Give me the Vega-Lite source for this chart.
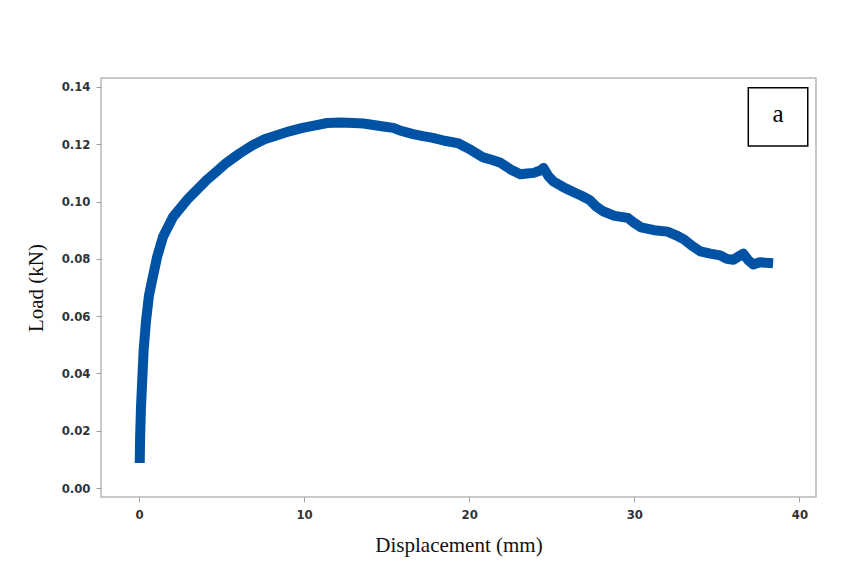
{
  "$schema": "https://vega.github.io/schema/vega-lite/v6.json",
  "width": 715,
  "height": 419,
  "autosize": {"type": "none"},
  "padding": {"left": 101, "top": 78, "right": 31, "bottom": 71},
  "background": "white",
  "config": {
    "view": {"stroke": "#b8b8b8", "strokeWidth": 1.5},
    "axis": {
      "grid": false,
      "domain": false,
      "tickColor": "#a0a0a0",
      "tickSize": 5,
      "labelFont": "DejaVu Sans Condensed",
      "labelFontSize": 13,
      "labelFontWeight": "bold",
      "labelColor": "#333333",
      "titleFont": "Liberation Serif",
      "titleFontSize": 21,
      "titleFontWeight": "normal",
      "titleColor": "#111111"
    }
  },
  "layer": [
    {
      "data": {
        "values": [
          {"d": 0.05, "L": 0.0105}, {"d": 0.07, "L": 0.018}, {"d": 0.12, "L": 0.028},
          {"d": 0.2, "L": 0.038}, {"d": 0.28, "L": 0.048}, {"d": 0.42, "L": 0.058},
          {"d": 0.6, "L": 0.067}, {"d": 0.8, "L": 0.0726}, {"d": 1.1, "L": 0.0807},
          {"d": 1.45, "L": 0.0876}, {"d": 2.06, "L": 0.0946}, {"d": 2.9, "L": 0.1005},
          {"d": 3.5, "L": 0.104}, {"d": 4.1, "L": 0.1075}, {"d": 4.7, "L": 0.1105},
          {"d": 5.3, "L": 0.1135}, {"d": 6.1, "L": 0.1168}, {"d": 6.9, "L": 0.1197},
          {"d": 7.6, "L": 0.1217}, {"d": 8.4, "L": 0.1232}, {"d": 9.1, "L": 0.1245},
          {"d": 9.9, "L": 0.1257}, {"d": 10.6, "L": 0.1265}, {"d": 11.4, "L": 0.1274},
          {"d": 12.2, "L": 0.1276}, {"d": 13.0, "L": 0.1274}, {"d": 13.6, "L": 0.1272},
          {"d": 14.2, "L": 0.1267}, {"d": 14.8, "L": 0.1262}, {"d": 15.4, "L": 0.1257},
          {"d": 15.8, "L": 0.1248}, {"d": 16.6, "L": 0.1235}, {"d": 17.2, "L": 0.1228},
          {"d": 17.8, "L": 0.1222}, {"d": 18.5, "L": 0.1212}, {"d": 19.3, "L": 0.1204},
          {"d": 20.1, "L": 0.118}, {"d": 20.8, "L": 0.1155}, {"d": 21.4, "L": 0.1145},
          {"d": 21.9, "L": 0.1135}, {"d": 22.5, "L": 0.1112}, {"d": 23.1, "L": 0.1095},
          {"d": 23.5, "L": 0.1098}, {"d": 23.9, "L": 0.11}, {"d": 24.3, "L": 0.1108},
          {"d": 24.5, "L": 0.1117}, {"d": 24.8, "L": 0.1088}, {"d": 25.1, "L": 0.107},
          {"d": 25.7, "L": 0.105}, {"d": 26.3, "L": 0.1033}, {"d": 26.8, "L": 0.102},
          {"d": 27.3, "L": 0.1005}, {"d": 27.7, "L": 0.0982}, {"d": 28.1, "L": 0.0966},
          {"d": 28.8, "L": 0.095}, {"d": 29.6, "L": 0.0943}, {"d": 30.0, "L": 0.0925},
          {"d": 30.4, "L": 0.091}, {"d": 31.2, "L": 0.09}, {"d": 32.0, "L": 0.0895},
          {"d": 32.5, "L": 0.0883}, {"d": 33.0, "L": 0.0868}, {"d": 33.5, "L": 0.0845},
          {"d": 34.0, "L": 0.0826}, {"d": 34.6, "L": 0.0818}, {"d": 35.2, "L": 0.0812},
          {"d": 35.6, "L": 0.08}, {"d": 36.0, "L": 0.0797}, {"d": 36.3, "L": 0.0808},
          {"d": 36.6, "L": 0.0818}, {"d": 36.9, "L": 0.0795}, {"d": 37.2, "L": 0.078},
          {"d": 37.6, "L": 0.0788}, {"d": 38.1, "L": 0.0786}
        ]
      },
      "mark": {"type": "line", "color": "#0053a4", "strokeWidth": 10, "strokeCap": "square", "strokeJoin": "round", "clip": true},
      "encoding": {
        "x": {
          "field": "d", "type": "quantitative",
          "scale": {"domain": [-2.3, 41], "nice": false, "zero": false},
          "axis": {"values": [0, 10, 20, 30, 40], "title": "Displacement (mm)", "labelPadding": 6, "titlePadding": 13}
        },
        "y": {
          "field": "L", "type": "quantitative",
          "scale": {"domain": [-0.0031, 0.1431], "nice": false, "zero": false},
          "axis": {"values": [0, 0.02, 0.04, 0.06, 0.08, 0.1, 0.12, 0.14], "format": ".2f", "title": "Load (kN)", "labelPadding": 6, "titlePadding": 15}
        }
      }
    },
    {
      "data": {"values": [{"x1": 36.9, "x2": 40.5, "y1": 0.1397, "y2": 0.1194, "label": "a", "xm": 38.7, "ym": 0.1296}]},
      "layer": [
        {
          "mark": {"type": "rect", "fill": "white", "stroke": "black", "strokeWidth": 1.5},
          "encoding": {
            "x": {"field": "x1", "type": "quantitative"},
            "x2": {"field": "x2"},
            "y": {"field": "y1", "type": "quantitative"},
            "y2": {"field": "y2"}
          }
        },
        {
          "mark": {"type": "text", "font": "Liberation Serif", "fontSize": 25, "color": "black", "baseline": "middle", "dy": -3},
          "encoding": {
            "x": {"field": "xm", "type": "quantitative"},
            "y": {"field": "ym", "type": "quantitative"},
            "text": {"field": "label"}
          }
        }
      ]
    }
  ]
}
